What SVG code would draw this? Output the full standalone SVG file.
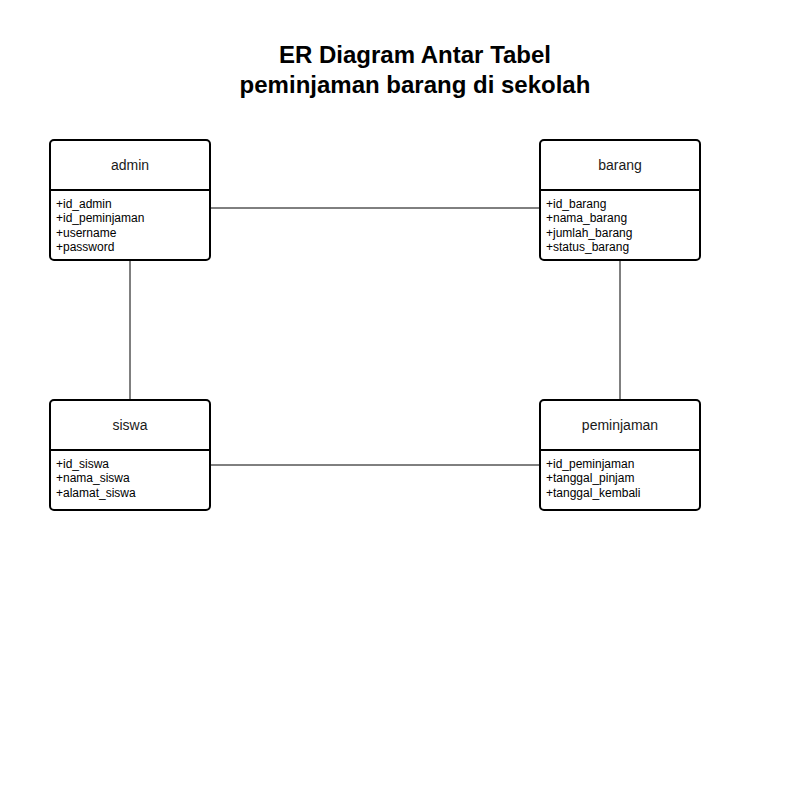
<svg xmlns="http://www.w3.org/2000/svg" width="800" height="800" viewBox="0 0 800 800">
<style>
.box{fill:#fff;stroke:#000;stroke-width:2}
.div{stroke:#000;stroke-width:2}
.hd{font-family:"Liberation Sans",Arial,sans-serif;font-size:14px;text-anchor:middle;fill:#1a1a1a}
.at{font-family:"Liberation Sans",Arial,sans-serif;font-size:12px;fill:#000}
.ttl{font-family:"Liberation Sans",Arial,sans-serif;font-size:24px;font-weight:bold;text-anchor:middle;fill:#000}
.cn{stroke:#000;stroke-width:1;fill:none}
</style>
<rect width="800" height="800" fill="#fff"/>
<text class="ttl" x="415" y="63">ER Diagram Antar Tabel</text>
<text class="ttl" x="415" y="93">peminjaman barang di sekolah</text>
<g id="connectors">
<line class="cn" x1="210" y1="208" x2="540" y2="208"/>
<line class="cn" x1="130" y1="260" x2="130" y2="400"/>
<line class="cn" x1="620" y1="260" x2="620" y2="400"/>
<line class="cn" x1="210" y1="465" x2="540" y2="465"/>
</g>
<g id="admin">
<rect class="box" x="50" y="140" width="160" height="120" rx="4"/>
<line class="div" x1="50" y1="190" x2="210" y2="190"/>
<text class="hd" x="130" y="170">admin</text>
<text class="at" x="56" y="208">+id_admin</text>
<text class="at" x="56" y="222">+id_peminjaman</text>
<text class="at" x="56" y="237">+username</text>
<text class="at" x="56" y="251">+password</text>
</g>
<g id="barang">
<rect class="box" x="540" y="140" width="160" height="120" rx="4"/>
<line class="div" x1="540" y1="190" x2="700" y2="190"/>
<text class="hd" x="620" y="170">barang</text>
<text class="at" x="546" y="208">+id_barang</text>
<text class="at" x="546" y="222">+nama_barang</text>
<text class="at" x="546" y="237">+jumlah_barang</text>
<text class="at" x="546" y="251">+status_barang</text>
</g>
<g id="siswa">
<rect class="box" x="50" y="400" width="160" height="110" rx="4"/>
<line class="div" x1="50" y1="450" x2="210" y2="450"/>
<text class="hd" x="130" y="430">siswa</text>
<text class="at" x="56" y="468">+id_siswa</text>
<text class="at" x="56" y="482">+nama_siswa</text>
<text class="at" x="56" y="497">+alamat_siswa</text>
</g>
<g id="peminjaman">
<rect class="box" x="540" y="400" width="160" height="110" rx="4"/>
<line class="div" x1="540" y1="450" x2="700" y2="450"/>
<text class="hd" x="620" y="430">peminjaman</text>
<text class="at" x="546" y="468">+id_peminjaman</text>
<text class="at" x="546" y="482">+tanggal_pinjam</text>
<text class="at" x="546" y="497">+tanggal_kembali</text>
</g>
</svg>
